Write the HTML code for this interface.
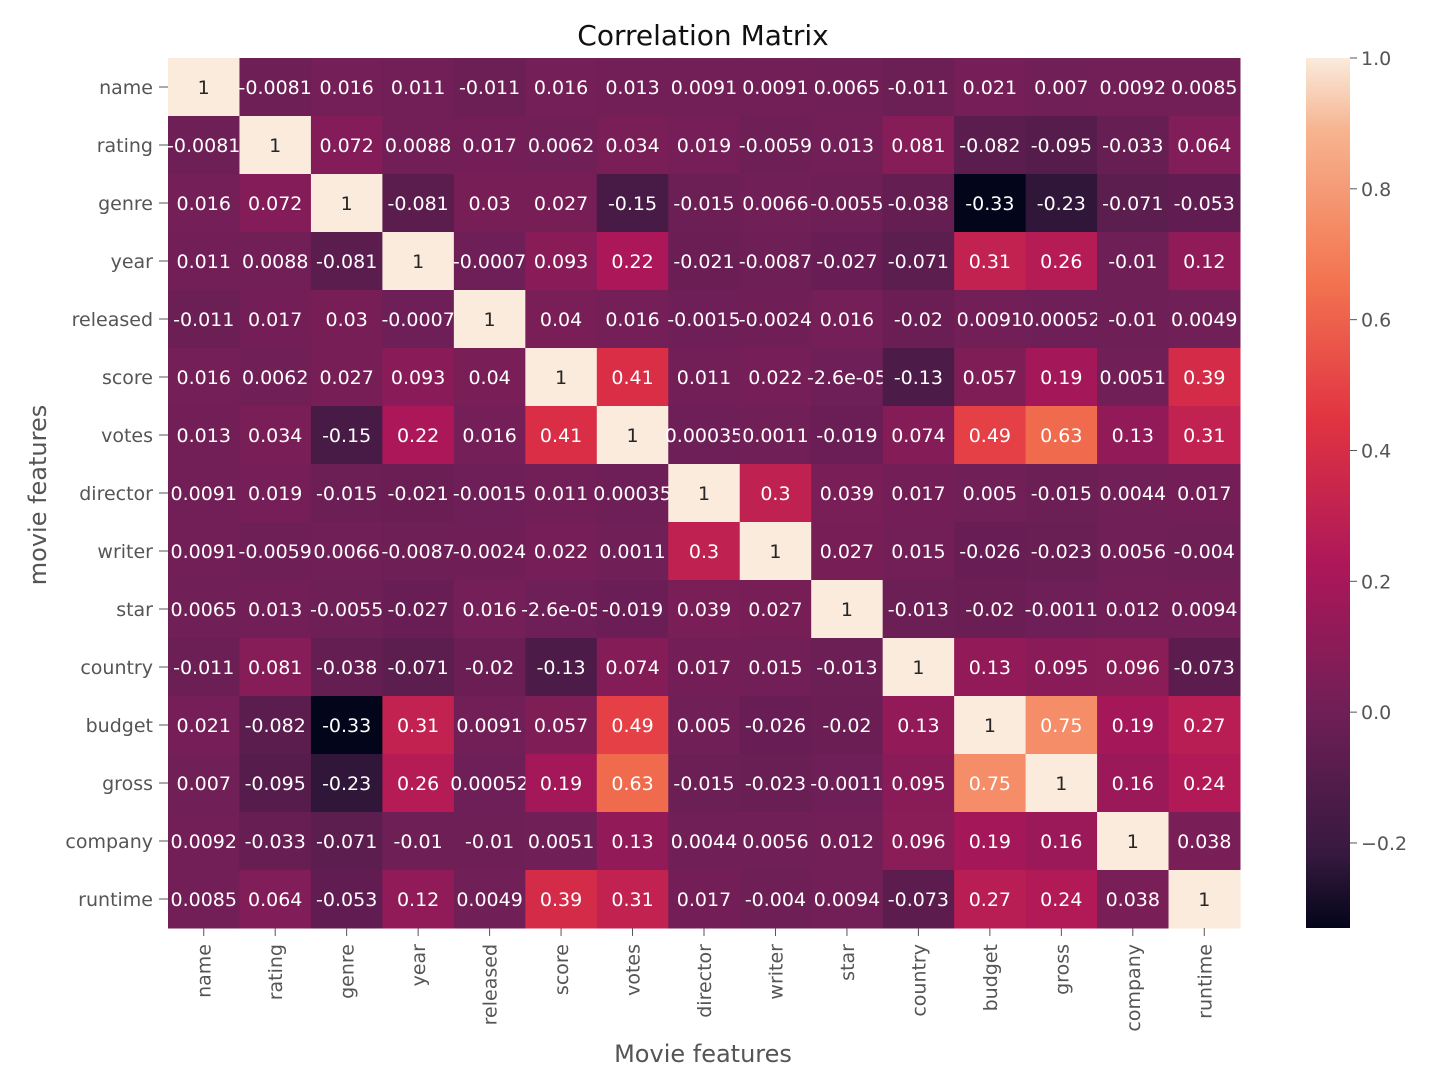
<!DOCTYPE html>
<html><head><meta charset="utf-8"><style>
html,body{margin:0;padding:0;background:#fff;}
svg{display:block;font-family:"DejaVu Sans","Liberation Sans",sans-serif;}
</style></head><body>
<svg id="chart" width="1442" height="1066">
<text x="703" y="45" text-anchor="middle" font-size="28" fill="#111">Correlation Matrix</text>
<text x="703" y="1062" text-anchor="middle" font-size="24" fill="#555">Movie features</text>
<text transform="translate(46,495) rotate(-90)" text-anchor="middle" font-size="24" fill="#555">movie features</text>
<defs><linearGradient id="cbg" x1="0" y1="1" x2="0" y2="0">
<stop offset="0" stop-color="#03051a"/><stop offset="0.0833" stop-color="#35193e"/><stop offset="0.25" stop-color="#701f57"/><stop offset="0.4167" stop-color="#ad1759"/><stop offset="0.5833" stop-color="#e13342"/><stop offset="0.75" stop-color="#f37651"/><stop offset="0.9167" stop-color="#f6b48f"/><stop offset="1" stop-color="#faebdd"/>
</linearGradient></defs>
<g id="cells"></g><g id="ticks"></g>
<rect x="1306" y="58" width="44" height="870" fill="url(#cbg)"/>
<g id="cbticks"></g>
</svg>
<script>
const features=["name","rating","genre","year","released","score","votes","director","writer","star","country","budget","gross","company","runtime"];
const rowName=[1,-0.0081,0.016,0.011,-0.011,0.016,0.013,0.0091,0.0091,0.0065,-0.011,0.021,0.007,0.0092,0.0085];
const rowRating=[-0.0081,1,0.072,0.0088,0.017,0.0062,0.034,0.019,-0.0059,0.013,0.081,-0.082,-0.095,-0.033,0.064];
const rowGenre=[0.016,0.072,1,-0.081,0.03,0.027,-0.15,-0.015,0.0066,-0.0055,-0.038,-0.33,-0.23,-0.071,-0.053];
const rowYear=[0.011,0.0088,-0.081,1,-0.0007,0.093,0.22,-0.021,-0.0087,-0.027,-0.071,0.31,0.26,-0.01,0.12];
const rowReleased=[-0.011,0.017,0.03,-0.0007,1,0.04,0.016,-0.0015,-0.0024,0.016,-0.02,0.0091,0.00052,-0.01,0.0049];
const rowScore=[0.016,0.0062,0.027,0.093,0.04,1,0.41,0.011,0.022,-2.6e-05,-0.13,0.057,0.19,0.0051,0.39];
const rowVotes=[0.013,0.034,-0.15,0.22,0.016,0.41,1,0.00035,0.0011,-0.019,0.074,0.49,0.63,0.13,0.31];
const rowDirector=[0.0091,0.019,-0.015,-0.021,-0.0015,0.011,0.00035,1,0.3,0.039,0.017,0.005,-0.015,0.0044,0.017];
const rowWriter=[0.0091,-0.0059,0.0066,-0.0087,-0.0024,0.022,0.0011,0.3,1,0.027,0.015,-0.026,-0.023,0.0056,-0.004];
const rowStar=[0.0065,0.013,-0.0055,-0.027,0.016,-2.6e-05,-0.019,0.039,0.027,1,-0.013,-0.02,-0.0011,0.012,0.0094];
const rowCountry=[-0.011,0.081,-0.038,-0.071,-0.02,-0.13,0.074,0.017,0.015,-0.013,1,0.13,0.095,0.096,-0.073];
const rowBudget=[0.021,-0.082,-0.33,0.31,0.0091,0.057,0.49,0.005,-0.026,-0.02,0.13,1,0.75,0.19,0.27];
const rowGross=[0.007,-0.095,-0.23,0.26,0.00052,0.19,0.63,-0.015,-0.023,-0.0011,0.095,0.75,1,0.16,0.24];
const rowCompany=[0.0092,-0.033,-0.071,-0.01,-0.01,0.0051,0.13,0.0044,0.0056,0.012,0.096,0.19,0.16,1,0.038];
const rowRuntime=[0.0085,0.064,-0.053,0.12,0.0049,0.39,0.31,0.017,-0.004,0.0094,-0.073,0.27,0.24,0.038,1];
const matrix=[rowName,rowRating,rowGenre,rowYear,rowReleased,rowScore,rowVotes,rowDirector,rowWriter,rowStar,rowCountry,rowBudget,rowGross,rowCompany,rowRuntime];
const cbTicks=[-0.2,0,0.2,0.4,0.6,0.8,1.0];

const NS="http://www.w3.org/2000/svg";
const X0=168,X1=1240,Y0=58,Y1=928;
const n=features.length, cw=(X1-X0)/n, ch=(Y1-Y0)/n;
let vmin=Infinity,vmax=-Infinity;
matrix.forEach(r=>r.forEach(v=>{vmin=Math.min(vmin,v);vmax=Math.max(vmax,v);}));
const stops=[[0,[3,5,26]],[0.0833,[53,25,62]],[0.25,[112,31,87]],[0.4167,[173,23,89]],[0.5833,[225,51,66]],[0.75,[243,118,81]],[0.9167,[246,180,143]],[1,[250,235,221]]];
function cmap(t){t=Math.max(0,Math.min(1,t));for(let i=1;i<stops.length;i++){if(t<=stops[i][0]){const a=stops[i-1],b=stops[i];const f=(t-a[0])/(b[0]-a[0]);return a[1].map((c,k)=>Math.round(c+(b[1][k]-c)*f));}}return stops[stops.length-1][1];}
function lum(c){const l=c.map(v=>{v/=255;return v<=0.03928?v/12.92:Math.pow((v+0.055)/1.055,2.4);});return 0.2126*l[0]+0.7152*l[1]+0.0722*l[2];}
function fmt(v){if(v!==0&&Math.abs(v)<1e-4){return v.toExponential(1).replace(/e([+-])(\d)$/,"e$10$2");}return String(Number(v.toPrecision(2)));}
const xs=i=>X0+i*cw, ys=j=>Y0+j*ch;
const cells=document.getElementById('cells');
matrix.forEach((row,j)=>row.forEach((v,i)=>{
  const c=cmap((v-vmin)/(vmax-vmin));
  const r=document.createElementNS(NS,'rect');
  r.setAttribute('x',xs(i));r.setAttribute('y',ys(j));r.setAttribute('width',cw+0.5);r.setAttribute('height',ch+0.5);
  r.setAttribute('fill',`rgb(${c})`);
  
  
  cells.appendChild(r);
  const t=document.createElementNS(NS,'text');
  t.setAttribute('x',xs(i)+cw/2);t.setAttribute('y',ys(j)+ch/2+7);
  t.setAttribute('text-anchor','middle');t.setAttribute('font-size','19');
  t.setAttribute('fill',lum(c)>0.408?'#262626':'#ffffff');
  
  
  t.textContent=fmt(v);cells.appendChild(t);
}));
const ticks=document.getElementById('ticks');
features.forEach((f,k)=>{
  const ty=document.createElementNS(NS,'text');
  ty.setAttribute('x',153);ty.setAttribute('y',ys(k)+ch/2+7);ty.setAttribute('text-anchor','end');
  ty.setAttribute('font-size','19');ty.setAttribute('fill','#555');
  
  
  ty.textContent=f;ticks.appendChild(ty);
  const ly=document.createElementNS(NS,'line');
  ly.setAttribute('x1',159);ly.setAttribute('x2',168);ly.setAttribute('y1',ys(k)+ch/2);ly.setAttribute('y2',ys(k)+ch/2);ly.setAttribute('stroke','#555');
  
  
  ticks.appendChild(ly);
  const tx=document.createElementNS(NS,'text');
  const cx=xs(k)+cw/2+7;
  tx.setAttribute('transform',`translate(${cx},944) rotate(-90)`);tx.setAttribute('text-anchor','end');
  tx.setAttribute('font-size','19');tx.setAttribute('fill','#555');
  
  
  tx.textContent=f;ticks.appendChild(tx);
  const lx=document.createElementNS(NS,'line');
  lx.setAttribute('x1',xs(k)+cw/2);lx.setAttribute('x2',xs(k)+cw/2);lx.setAttribute('y1',928);lx.setAttribute('y2',936);lx.setAttribute('stroke','#555');
  
  
  ticks.appendChild(lx);
});
const cb=document.getElementById('cbticks');
const cy=v=>Y1-(v-vmin)/(vmax-vmin)*(Y1-Y0);
cbTicks.forEach(v=>{
  const y=cy(v);
  const l=document.createElementNS(NS,'line');
  l.setAttribute('x1',1350);l.setAttribute('x2',1357);l.setAttribute('y1',y);l.setAttribute('y2',y);l.setAttribute('stroke','#555');
  
  
  cb.appendChild(l);
  const t=document.createElementNS(NS,'text');
  t.setAttribute('x',1361);t.setAttribute('y',y+7);t.setAttribute('font-size','19');t.setAttribute('fill','#555');
  
  
  t.textContent=v===0?'0.0':(v<0?'\u2212'+Math.abs(v).toFixed(1):v.toFixed(1));cb.appendChild(t);
});
</script>
</body></html>
